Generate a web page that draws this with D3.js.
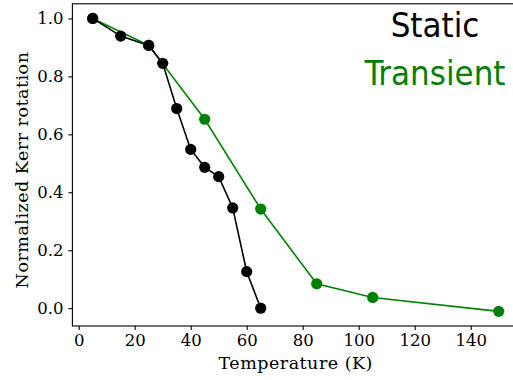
<!DOCTYPE html>
<html>
<head>
<meta charset="utf-8">
<script src="https://cdn.jsdelivr.net/npm/d3@7"></script>
<style>
body { margin: 0; background: #fff; }
svg { display: block; }
</style>
</head>
<body>
<svg id="chart" width="513" height="380"></svg>
<script>
// static measurement
var staticT = [5, 15, 25, 30, 35, 40, 45, 50, 55, 60, 65];
var staticK = [1.0, 0.939, 0.907, 0.845, 0.689, 0.548, 0.486, 0.454, 0.346, 0.126, 0.0];
// transient measurement
var transT = [5, 25, 45, 65, 85, 105, 150];
var transK = [1.0, 0.907, 0.652, 0.342, 0.084, 0.037, -0.011];

var xTicks = [0, 20, 40, 60, 80, 100, 120, 140];
var yTicks = [0.0, 0.2, 0.4, 0.6, 0.8, 1.0];
var legendNames = ["Static", "Transient"];
var colors = ["#000000", "#008000"];

var plotL = 72.4, plotR = 519, plotT = 3.8, plotB = 326;

var svg = d3.select("#chart");

// matplotlib-ish 5% margins
var allT = transT.concat(staticT), allK = transK.concat(staticK);
var xmin = d3.min(allT), xmax = d3.max(allT);
var ymin = d3.min(allK), ymax = d3.max(allK);
var xpad = (xmax - xmin) * 0.05, ypad = (ymax - ymin) * 0.05;

var x = d3.scaleLinear().domain([xmin - xpad, xmax + xpad]).range([plotL, plotR]);
var y = d3.scaleLinear().domain([ymin - ypad, ymax + ypad]).range([plotB, plotT]);

function zip(a, b) {
	return a.map(function(d, i){ return [d, b[i]]; });
}

var series = [zip(staticT, staticK), zip(transT, transK)];

var line = d3.line()
	.x(function(d){ return x(d[0]); })
	.y(function(d){ return y(d[1]); });

// draw transient first so static dots sit on top
var order = [1, 0];
order.forEach(function(s) {
	svg.append("path")
		.datum(series[s])
		.attr("d", line)
		.attr("fill", "none")
		.attr("stroke", colors[s])
		.attr("stroke-width", 1.6);
	svg.selectAll(".dot-" + s).data(series[s])
		.enter().append("circle")
			.attr("class", "dot-" + s)
			.attr("cx", function(d){ return x(d[0]); })
			.attr("cy", function(d){ return y(d[1]); })
			.attr("r", 5.6)
			.attr("fill", colors[s]);
});

// spines (right one falls outside the picture)
svg.append("rect")
	.attr("x", plotL).attr("y", plotT)
	.attr("width", plotR - plotL).attr("height", plotB - plotT)
	.attr("fill", "none")
	.attr("stroke", "#000")
	.attr("stroke-width", 1.1);

var xAxis = svg.append("g")
	.attr("transform", "translate(0," + plotB + ")")
	.call(d3.axisBottom(x).tickValues(xTicks).tickSize(4).tickPadding(4).tickFormat(d3.format("d")));
var yAxis = svg.append("g")
	.attr("transform", "translate(" + plotL + ",0)")
	.call(d3.axisLeft(y).tickValues(yTicks).tickSize(4).tickPadding(5).tickFormat(d3.format(".1f")));
[xAxis, yAxis].forEach(function(g) {
	g.select(".domain").remove();
	g.attr("font-family", "DejaVu Serif, serif").attr("font-size", 16.5);
	g.selectAll(".tick line").attr("stroke", "#000").attr("stroke-width", 1.1);
	g.selectAll(".tick text").attr("fill", "#000");
});

svg.append("text")
	.attr("x", (plotL + plotR) / 2)
	.attr("y", 369)
	.attr("text-anchor", "middle")
	.style("font-family", "DejaVu Serif, serif")
	.style("font-size", "17.5px")
	.style("letter-spacing", "0.5px")
	.text("Temperature (K)");

svg.append("text")
	.attr("transform", "translate(28,170) rotate(-90)")
	.attr("text-anchor", "middle")
	.style("font-family", "DejaVu Serif, serif")
	.style("font-size", "17.5px")
	.style("letter-spacing", "0.5px")
	.text("Normalized Kerr rotation");

// big legend text
svg.selectAll(".legend").data(legendNames)
	.enter().append("text")
		.attr("class", "legend")
		.attr("x", 435)
		.attr("y", function(d, i){ return 36.5 + i * 48.5; })
		.attr("text-anchor", "middle")
		.attr("fill", function(d, i){ return colors[i]; })
		.style("font-family", "DejaVu Sans Condensed, DejaVu Sans, sans-serif")
		.style("font-stretch", "condensed")
		.style("font-size", "34.5px")
		.text(function(d){ return d; });
</script>
</body>
</html>
